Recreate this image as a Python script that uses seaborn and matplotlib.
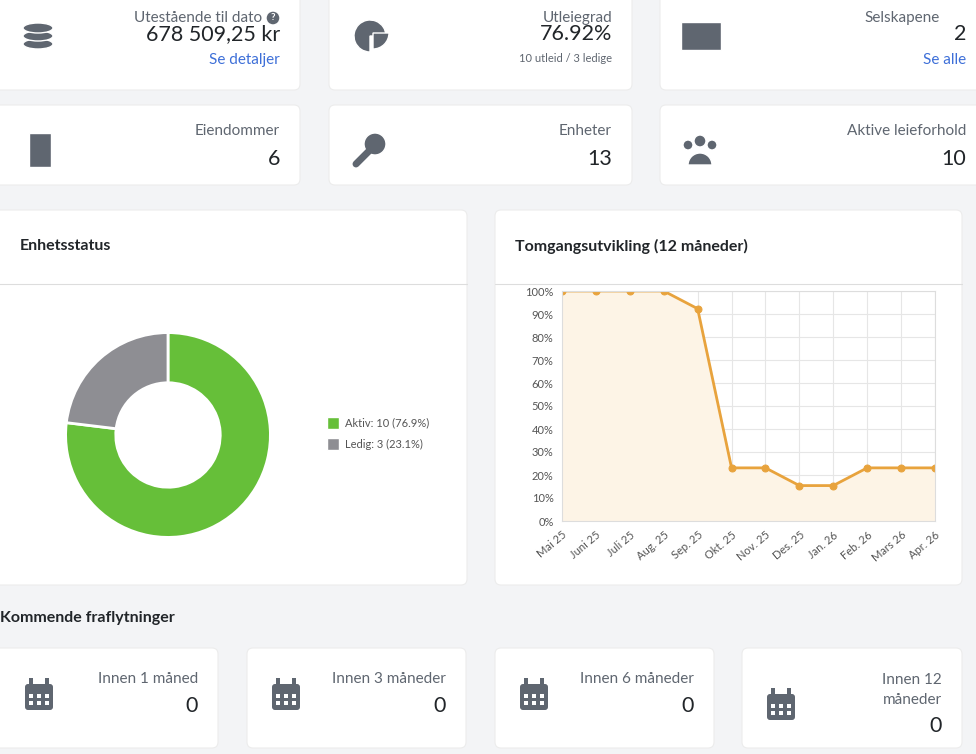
import matplotlib.pyplot as plt
import seaborn as sns
import pandas as pd
from matplotlib.patches import FancyBboxPatch, Rectangle, Circle, Wedge, Ellipse

sns.set_style("white")
plt.rcParams["font.family"] = ["Lato", "DejaVu Sans"]

W, H = 976, 754
GREY = "#5f6670"
TEXT = "#212529"


def px(x, y, w, h):
    """pixel box (top-left origin) -> figure fraction"""
    return [x / W, 1 - (y + h) / H, w / W, h / H]


def card(ax, x, y, w, h):
    ax.add_patch(FancyBboxPatch((x, y), w, h, boxstyle="round,pad=0,rounding_size=6",
                                fc="white", ec="#ececec", lw=0.8))


def calendar(ax, cx, cy):
    ax.add_patch(FancyBboxPatch((cx - 14, cy - 11), 28, 26, boxstyle="round,pad=0,rounding_size=3", fc=GREY, ec="none"))
    for dx in (-8, 8):
        ax.add_patch(Rectangle((cx + dx - 2, cy - 17), 4, 8, fc=GREY, ec="none"))
    for i in range(3):
        for j in range(2):
            ax.add_patch(Rectangle((cx - 10 + i * 8, cy - 1 + j * 7), 4, 4, fc="white", ec="none"))


def stat_card(ax, x, y, w, h, label, value, extra=None, link=None):
    card(ax, x, y, w, h)
    ax.text(x + w - 20, y + 26, label, ha="right", va="center", fontsize=11, color=GREY)
    ax.text(x + w - 20, y + 54, value, ha="right", va="center", fontsize=15.5, color=TEXT)
    if extra:
        ax.text(x + w - 20, y + 78, extra, ha="right", va="center", fontsize=8, color=GREY)
    if link:
        ax.text(x + w - 20, y + 80, link, ha="right", va="center", fontsize=11, color="#3d6fd8")


def draw_background(fig):
    ax = fig.add_axes([0, 0, 1, 1])
    ax.set_xlim(0, W)
    ax.set_ylim(H, 0)
    ax.axis("off")
    ax.add_patch(Rectangle((0, 0), W, H, fc="#f3f4f6", ec="none"))

    stat_card(ax, -10, -20, 310, 110, "", "678 509,25 kr", link="Se detaljer")
    ax.text(262, 18, "Utestående til dato", ha="right", va="center", fontsize=11, color=GREY)
    ax.add_patch(Circle((273, 18), 7, fc=GREY))
    ax.text(273, 18, "?", ha="center", va="center", fontsize=7, color="white", weight="bold")
    stat_card(ax, 329, -20, 303, 110, "", "76.92%", extra="10 utleid / 3 ledige")
    ax.text(612, 18, "Utleiegrad", ha="right", va="center", fontsize=11, color=GREY)
    stat_card(ax, 660, -20, 326, 110, "", "2", link="Se alle")
    ax.text(940, 18, "Selskapene", ha="right", va="center", fontsize=11, color=GREY)

    stat_card(ax, -10, 105, 310, 80, "Eiendommer", "6")
    stat_card(ax, 329, 105, 303, 80, "Enheter", "13")
    stat_card(ax, 660, 105, 326, 80, "Aktive leieforhold", "10")

    # icons, rough
    for k in range(3):
        ax.add_patch(Ellipse((38, 44 - k * 8), 30, 10, fc=GREY, ec="white", lw=1))
    ax.add_patch(Wedge((370, 36), 16, 90, 360, fc=GREY))
    ax.add_patch(Wedge((373, 33), 16, 0, 90, fc=GREY))
    ax.add_patch(Rectangle((681, 22), 40, 28, fc=GREY))
    ax.add_patch(Rectangle((29, 133), 22, 34, fc=GREY))
    ax.add_patch(Circle((375, 144), 11, fc=GREY))
    ax.plot([370, 356], [150, 164], color=GREY, lw=5, solid_capstyle="round")
    for cx, cy, r in ((700, 141, 6), (688, 145, 5), (712, 145, 5)):
        ax.add_patch(Circle((cx, cy), r, fc=GREY))
    ax.add_patch(Wedge((700, 165), 12, 180, 360, fc=GREY))

    card(ax, -10, 210, 477, 375)
    ax.text(20, 246, "Enhetsstatus", va="center", fontsize=11.5, weight="bold", color=TEXT)
    ax.plot([-10, 467], [284, 284], color="#dddddd", lw=0.8)
    card(ax, 495, 210, 467, 375)
    ax.text(515, 246, "Tomgangsutvikling (12 måneder)", va="center", fontsize=11.5, weight="bold", color=TEXT)
    ax.plot([495, 962], [284, 284], color="#dddddd", lw=0.8)

    ax.add_patch(Rectangle((327, 417), 12, 12, fc="#66bf39"))
    ax.add_patch(Rectangle((327, 438), 12, 12, fc="#8e8e93"))
    ax.text(345, 423, "Aktiv: 10 (76.9%)", va="center", fontsize=8, color="#555555")
    ax.text(345, 444, "Ledig: 3 (23.1%)", va="center", fontsize=8, color="#555555")

    ax.text(0, 618, "Kommende fraflytninger", va="center", fontsize=11.5, weight="bold", color=TEXT)
    boxes = [(-10, 228, "Innen 1 måned"), (247, 219, "Innen 3 måneder"),
             (495, 219, "Innen 6 måneder"), (742, 220, "Innen 12\nmåneder")]
    for x, w, lab in boxes:
        card(ax, x, 648, w, 100)
        right = x + w - 20
        if "\n" in lab:
            ax.text(right, 690, lab, ha="right", va="center", fontsize=11, color=GREY, linespacing=1.6)
            ax.text(right, 726, "0", ha="right", va="center", fontsize=15.5, color=TEXT)
        else:
            ax.text(right, 679, lab, ha="right", va="center", fontsize=11, color=GREY)
            ax.text(right, 706, "0", ha="right", va="center", fontsize=15.5, color=TEXT)
        calendar(ax, max(x, 0) + 39 if x > 0 else 39, 695 if x < 700 else 705)


def donut(fig):
    ax = fig.add_axes(px(40, 307, 256, 256))
    ax.pie([10, 3], colors=["#66bf39", "#8e8e93"], startangle=90, counterclock=False,
           wedgeprops={"width": 0.49, "edgecolor": "white", "linewidth": 2})
    ax.set_aspect("equal")


def vacancy(fig):
    data = pd.DataFrame({
        "month": ["Mai 25", "Juni 25", "Juli 25", "Aug. 25", "Sep. 25", "Okt. 25",
                  "Nov. 25", "Des. 25", "Jan. 26", "Feb. 26", "Mars 26", "Apr. 26"],
        "pct": [100, 100, 100, 100, 92.3, 23.1, 23.1, 15.4, 15.4, 23.1, 23.1, 23.1],
    })
    data["i"] = range(len(data))
    ax = fig.add_axes(px(562, 291, 373, 230))
    ax.fill_between(data["i"], data["pct"], color="#fdf4e6")
    sns.lineplot(data=data, x="i", y="pct", ax=ax, color="#e8a33d", lw=2,
                 marker="o", markersize=5, markeredgecolor="#e8a33d")
    ax.set_xlim(0, 11)
    ax.set_ylim(0, 100)
    ax.set_yticks(range(0, 101, 10))
    ax.set_yticklabels([f"{v}%" for v in range(0, 101, 10)], fontsize=8, color="#555555")
    ax.set_xticks(data["i"])
    ax.set_xticklabels(data["month"], rotation=40, ha="right", rotation_mode="anchor",
                       fontsize=8, color="#555555")
    ax.grid(True, color="#e6e6e6", lw=0.8)
    ax.set_xlabel("")
    ax.set_ylabel("")
    for s in ax.spines.values():
        s.set_color("#dddddd")
    ax.tick_params(length=4, color="#dddddd", pad=2)


def main():
    fig = plt.figure(figsize=(9.76, 7.54), dpi=100)
    draw_background(fig)
    donut(fig)
    vacancy(fig)
    fig.savefig("out.png", dpi=100)


if __name__ == '__main__':
    main()
